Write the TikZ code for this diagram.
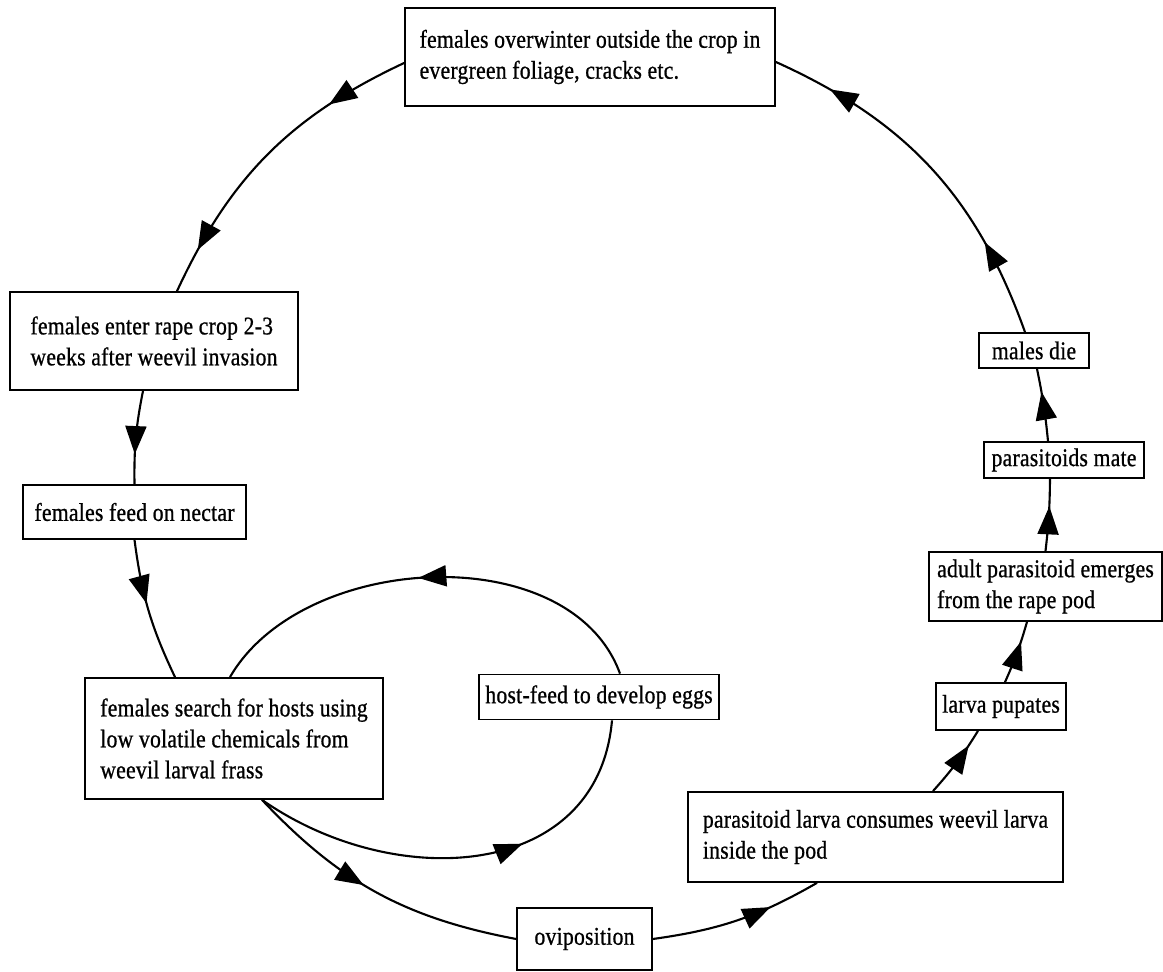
\documentclass[tikz,border=0pt]{standalone}
\usepackage{fontspec}
\setmainfont{Liberation Serif}[FakeStretch=0.85,LetterSpace=1,FakeBold=0.8]
\usepackage{tikz}
\usetikzlibrary{arrows.meta,decorations.markings}

\tikzset{
  stage/.style={draw, line width=1pt, fill=white, align=left, inner xsep=0.12cm,
    font=\fontsize{14.5}{17.6}\selectfont},
  cyc/.style={line width=1.2pt},
  arrowat/.style={postaction={decorate, decoration={markings,
    mark=at position #1 with {\arrow{Triangle[length=0.56cm,width=0.42cm]}}}}}
}

\begin{document}
\begin{tikzpicture}
\useasboundingbox (0,0) rectangle (23.26,19.44);

\node[stage, minimum width=7.4cm, minimum height=1.96cm] (winter) at (11.8,18.3) {females overwinter outside the crop in\\ evergreen foliage, cracks etc.};
\node[stage, minimum width=5.76cm, minimum height=1.96cm] (enter) at (3.08,12.62) {females enter rape crop 2-3\\ weeks after weevil invasion};
\node[stage, minimum width=4.46cm, minimum height=1.08cm] (nectar) at (2.69,9.2) {females feed on nectar};
\node[stage, minimum width=5.96cm, minimum height=2.42cm] (search) at (4.68,4.67) {females search for hosts using\\ low volatile chemicals from\\ weevil larval frass};
\node[stage, minimum width=4.8cm, minimum height=0.9cm] (hostfeed) at (11.98,5.5) {host-feed to develop eggs};
\node[stage, minimum width=2.7cm, minimum height=1.24cm] (ovip) at (11.69,0.66) {oviposition};
\node[stage, minimum width=7.5cm, minimum height=1.8cm] (larva) at (17.51,2.7) {parasitoid larva consumes weevil larva\\ inside the pod};
\node[stage, minimum width=2.52cm, minimum height=0.94cm] (pupate) at (20.02,5.31) {larva pupates};
\node[stage, minimum width=4.66cm, minimum height=1.38cm] (adult) at (20.91,7.71) {adult parasitoid emerges\\ from the rape pod};
\node[stage, minimum width=3.2cm, minimum height=0.72cm] (mate) at (21.28,10.24) {parasitoids mate};
\node[stage, minimum width=2.2cm, minimum height=0.7cm] (males) at (20.68,12.43) {males die};

% main cycle
\draw[cyc, arrowat=0.26, arrowat=0.86] ([yshift=-0.12cm]winter.west) to[bend right=20] ([xshift=0.46cm]enter.north);
\draw[cyc, arrowat=0.68] ([xshift=-0.22cm]enter.south) to[bend right=6] (nectar.north);
\draw[cyc, arrowat=0.45] (nectar.south) to[bend right=9] ([xshift=-1.18cm]search.north);
\draw[cyc, arrowat=0.45] ([xshift=0.56cm]search.south) to[bend right=18] (ovip.west);
\draw[cyc, arrowat=0.7] (ovip.east) to[bend right=11] ([xshift=-1.17cm]larva.south);
\draw[cyc, arrowat=0.77] ([xshift=1.15cm]larva.north) to[bend right=5] ([xshift=-0.46cm]pupate.south);
\draw[cyc, arrowat=0.68] ([xshift=0.08cm]pupate.north) to[bend right=4] ([xshift=-0.37cm]adult.south);
\draw[cyc, arrowat=0.62] (adult.north) to[bend right=3] ([xshift=-0.28cm]mate.south);
\draw[cyc, arrowat=0.68] ([xshift=-0.32cm]mate.north) to[bend right=3] ([xshift=0.06cm]males.south);
\draw[cyc, arrowat=0.26, arrowat=0.84] ([xshift=-0.18cm]males.north) to[bend right=23] ([yshift=-0.1cm]winter.east);

% host-feeding loop
\draw[cyc, arrowat=0.52] ([xshift=0.42cm]hostfeed.north) to[out=110, in=60, looseness=0.95] ([xshift=-0.08cm]search.north);
\draw[cyc, arrowat=0.63] ([xshift=0.56cm]search.south) to[out=-35, in=-95, looseness=1.15] ([xshift=0.26cm]hostfeed.south);
\end{tikzpicture}
\end{document}
